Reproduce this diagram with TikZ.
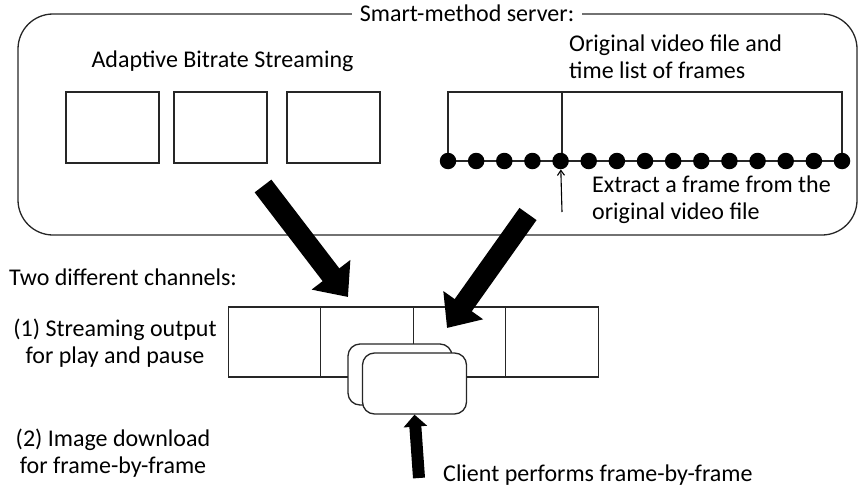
\documentclass[tikz,border=0pt]{standalone}
\usepackage{fontspec}
\setmainfont{Carlito}
\usetikzlibrary{arrows.meta}
\begin{document}
\begin{tikzpicture}[x=1pt,y=-1pt,
  lbl/.style={font=\fontsize{24}{27}\selectfont, inner sep=0pt},
  frame/.style={draw=black!85, line width=1.3pt},
  box/.style={frame, minimum width=93pt, minimum height=71pt, inner sep=0pt},
  cell/.style={frame, minimum width=92.5pt, minimum height=70pt, inner sep=0pt},
  card/.style={frame, fill=white, rounded corners=12pt, minimum width=104pt, minimum height=61pt, inner sep=0pt},
  bigarrow/.style={line width=21pt, -{Triangle[width=47pt,length=28pt]}},
  dot/.style={circle, fill=black, minimum size=16.5pt, inner sep=0pt},
]
\useasboundingbox (0,0) rectangle (866,492);
% server
\draw[frame, rounded corners=35pt] (18,14) rectangle (857,235);
\node[lbl, fill=white, inner xsep=8pt, inner ysep=3pt, anchor=base] (title) at (467,21.5) {Smart-method server:};
\node[lbl, anchor=base] (abs) at (222.5,68) {Adaptive Bitrate Streaming};
\node[box] (b1) at (112.5,127.5) {};
\node[box] (b2) at (220.5,127.5) {};
\node[box] (b3) at (333.5,127.5) {};
\node[lbl, anchor=base west, align=left] (orig) at (569,79) {Original video file and\\time list of frames};
% frame list
\coordinate (fl) at (448,161);
\coordinate (fr) at (842,161);
\draw[frame] (fl) -- (448,92) -- (842,92) -- (fr);
\draw[frame] (562,92) -- (562,161);
\draw[frame] (fl) -- (fr);
\foreach \i in {0,...,14} {
  \node[dot] (d\i) at ({448+\i*28.143},161) {};
}
\coordinate (ex) at (562,212);
\draw[line width=1.1pt, -{Straight Barb[length=5pt,width=7pt]}] (ex) -- (d4);
\node[lbl, anchor=base west, align=left] (extract) at (592,219) {Extract a frame from the\\original video file};
% channels
\node[lbl, anchor=base west] (two) at (9,285) {Two different channels:};
\node[lbl, anchor=base, align=center] (ch1) at (115,363) {(1) Streaming output\\for play and pause};
\node[lbl, anchor=base, align=center] (ch2) at (113,473) {(2) Image download\\for frame-by-frame};
% output row
\node[cell] (s1) at (274.5,342) {};
\node[cell] (s2) at (367,342) {};
\node[cell] (s3) at (459.5,342) {};
\node[cell] (s4) at (552,342) {};
% big arrows
\coordinate (la) at (263,186);
\coordinate (lt) at (348,297);
\coordinate (ra) at (528,214);
\coordinate (rt) at (447,328);
\draw[bigarrow] (la) -- (lt);
\draw[bigarrow] (ra) -- (rt);
% cards
\node[card] (c1) at (400,374.5) {};
\node[card] (c2) at (414.5,383.5) {};
% client arrow
\coordinate (ca) at (419,478);
\draw[line width=12pt, -{Triangle[width=23pt,length=12pt]}] (ca) -- (c2.south);
\node[lbl, anchor=base west] (client) at (443,481) {Client performs frame-by-frame};
\end{tikzpicture}
\end{document}
